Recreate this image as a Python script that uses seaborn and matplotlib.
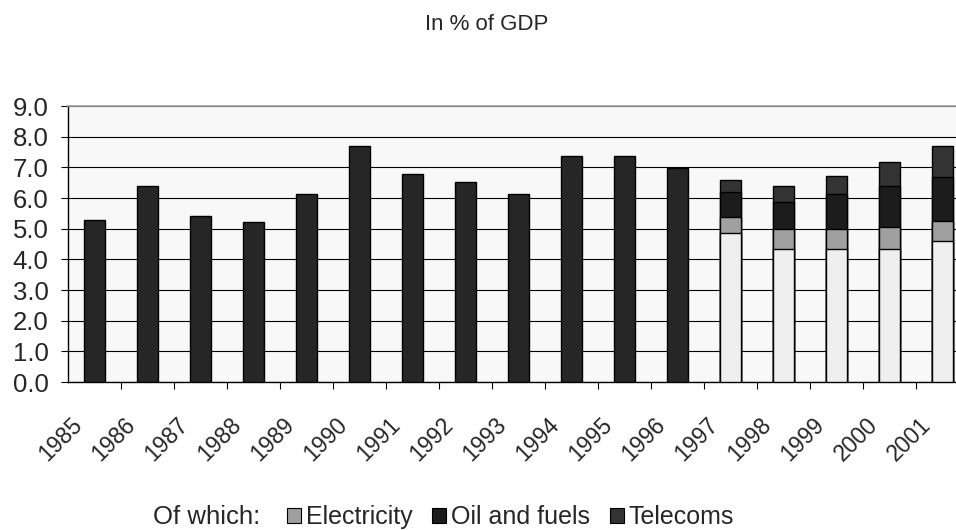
import matplotlib
matplotlib.use('Agg')
import matplotlib.pyplot as plt
from matplotlib.patches import Patch
from matplotlib.ticker import FixedLocator
import matplotlib.transforms as mtransforms
import numpy as np
import pandas as pd
import seaborn as sns

years = [str(y) for y in range(1985, 2002)]

# total only (no breakdown) for 1985-1996
total_early = [5.28, 6.39, 5.41, 5.22, 6.13, 7.69, 6.79, 6.52, 6.13, 7.36, 7.36, 6.97]

# breakdown for 1997-2001
late_years = ['1997', '1998', '1999', '2000', '2001']
other = [4.87, 4.35, 4.35, 4.35, 4.61]
electricity = [0.51, 0.65, 0.65, 0.72, 0.65]
oil_fuels = [0.80, 0.86, 1.12, 1.31, 1.43]
telecoms = [0.40, 0.52, 0.59, 0.79, 1.00]

sns.set_theme(style='white')
plt.rcParams['font.family'] = ['Liberation Sans', 'DejaVu Sans']
FS = 18.5

early = pd.DataFrame({'year': years[:12], 'value': total_early})
late = pd.DataFrame({'year': late_years})
late['l1'] = np.array(other)
late['l2'] = late['l1'] + np.array(electricity)
late['l3'] = late['l2'] + np.array(oil_fuels)
late['l4'] = late['l3'] + np.array(telecoms)

fig = plt.figure(figsize=(9.56, 5.30), dpi=100)
ax = fig.add_axes([68 / 956, 1 - 382 / 530, 1 - 68 / 956, (382 - 106) / 530])
ax.set_facecolor('#f8f8f8')

bar_kw = dict(width=0.4, edgecolor='black', linewidth=1.0, order=years, ax=ax, zorder=3)
sns.barplot(data=early, x='year', y='value', color='#262626', saturation=1, **bar_kw)
# stacked: draw cumulative layers from top down
for col, c in [('l4', '#333333'), ('l3', '#1c1c1c'), ('l2', '#a0a0a0'), ('l1', '#efefef')]:
    sns.barplot(data=late, x='year', y=col, color=c, saturation=1, **bar_kw)

ax.set_ylim(0, 9)
ax.set_xlim(-0.5, 16.25)
ax.set_yticks(np.arange(0, 9.1, 1.0))
ax.set_yticklabels([f'{v:.1f}' for v in np.arange(0, 9.1, 1.0)], fontsize=FS)
ax.yaxis.grid(True, color='black', linewidth=0.8, zorder=0)
ax.set_axisbelow(True)
ax.set_xlabel('')
ax.set_ylabel('')

ax.set_xticks(range(len(years)))
ax.xaxis.set_minor_locator(FixedLocator(np.arange(0.5, 16.5, 1.0)))
ax.tick_params(axis='x', which='major', length=0, pad=22.7)
ax.tick_params(axis='x', which='minor', bottom=True, length=5, width=0.8, color='black')
ax.tick_params(axis='y', left=True, length=5, width=0.8, color='black', pad=9)
ax.set_xticklabels(years, rotation=45, ha='right', va='top', rotation_mode='anchor', fontsize=16.5)
# move labels left so their upper-right end sits left of each bar
shift = mtransforms.ScaledTranslation(-24 / 100, 0, fig.dpi_scale_trans)
for lab in ax.get_xticklabels():
    lab.set_transform(lab.get_transform() + shift)

for s in ['left', 'bottom']:
    ax.spines[s].set_color('black')
    ax.spines[s].set_linewidth(1.0)
ax.spines['top'].set_color('#a0a0a0')
ax.spines['top'].set_linewidth(1.2)
ax.spines['right'].set_visible(False)

fig.text(487 / 956, 1 - 25 / 530, 'In % of GDP', ha='center', va='center', fontsize=16)

fig.text(153 / 956, 1 - 517 / 530, 'Of which:', ha='left', va='center', fontsize=FS)
handles = [Patch(facecolor='#a0a0a0', edgecolor='black', linewidth=0.8),
           Patch(facecolor='#1c1c1c', edgecolor='black', linewidth=0.8),
           Patch(facecolor='#333333', edgecolor='black', linewidth=0.8)]
fig.legend(handles, ['Electricity', 'Oil and fuels', 'Telecoms'], loc='center left',
           bbox_to_anchor=(287 / 956, 1 - 517 / 530), ncol=3, frameon=False, fontsize=18,
           handlelength=0.55, handleheight=0.55, handletextpad=0.2, columnspacing=0.8,
           borderaxespad=0, borderpad=0)

fig.savefig('out.png', dpi=100)
